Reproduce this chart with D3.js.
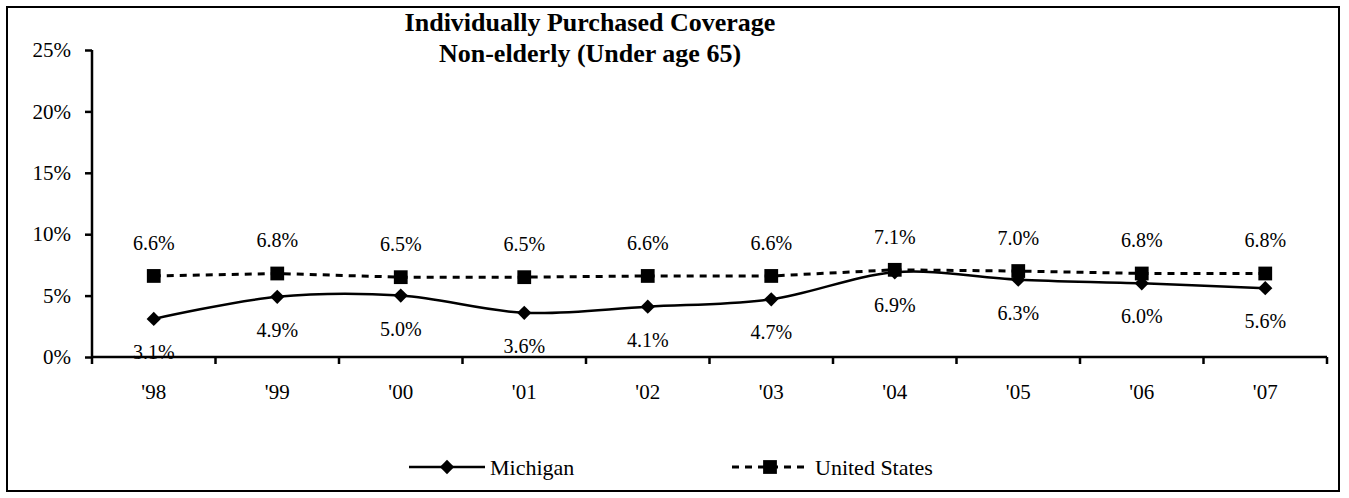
<!DOCTYPE html>
<html>
<head>
<meta charset="utf-8">
<script src="https://cdn.jsdelivr.net/npm/d3@7"></script>
<style>
  body { margin: 0; background: #fff; }
  text { font-family: "Liberation Serif", "Times New Roman", serif; fill: #000; }
</style>
</head>
<body>
<svg id="chart" width="1349" height="498"></svg>
<script>
// data
var years = ["'98", "'99", "'00", "'01", "'02", "'03", "'04", "'05", "'06", "'07"];
var michigan = [3.1, 4.9, 5.0, 3.6, 4.1, 4.7, 6.9, 6.3, 6.0, 5.6];
var unitedStates = [6.6, 6.8, 6.5, 6.5, 6.6, 6.6, 7.1, 7.0, 6.8, 6.8];
var yTicks = [0, 5, 10, 15, 20, 25];
var titleLines = ["Individually Purchased Coverage", "Non-elderly (Under age 65)"];

var svg = d3.select("#chart");

// outer frame
svg.append("rect")
    .attr("x", 7).attr("y", 7)
    .attr("width", 1332).attr("height", 484)
    .attr("fill", "none")
    .attr("stroke", "#000")
    .attr("stroke-width", 2);

var margin = {top: 50, left: 92};
var width = 1235, height = 307;

var g = svg.append("g").attr("transform", "translate(" + margin.left + "," + margin.top + ")");

var x = d3.scaleBand().domain(years).range([0, width]);
var y = d3.scaleLinear().domain([0, 25]).range([height, 0]);
var cx = function(i) { return x(years[i]) + x.bandwidth() / 2; };

// y axis
var yAxis = g.append("g")
    .call(d3.axisLeft(y).tickValues(yTicks).tickSize(7).tickFormat(function(d) { return d + "%"; }));
yAxis.select(".domain").attr("stroke-width", 2.5).attr("d", "M0," + height + "V0");
yAxis.selectAll(".tick line").attr("stroke-width", 2.5);
yAxis.selectAll(".tick text").attr("x", -21).style("font-size", "21px");

// x axis: ticks between categories
var xAxis = g.append("g")
    .attr("transform", "translate(0," + height + ")");
xAxis.append("line")
    .attr("x1", 0).attr("x2", width)
    .attr("stroke", "#000").attr("stroke-width", 2.5);
xAxis.selectAll(".sep")
    .data(d3.range(years.length + 1))
    .enter().append("line")
    .attr("x1", function(i) { return i * x.step(); })
    .attr("x2", function(i) { return i * x.step(); })
    .attr("y1", 0).attr("y2", 7)
    .attr("stroke", "#000").attr("stroke-width", 2.5);
xAxis.selectAll(".lab")
    .data(years)
    .enter().append("text")
    .attr("x", function(d) { return x(d) + x.bandwidth() / 2; })
    .attr("y", 35)
    .attr("dy", "0.35em")
    .attr("text-anchor", "middle")
    .style("font-size", "21px")
    .text(function(d) { return d; });

// lines
var smooth = d3.line()
    .curve(d3.curveCatmullRom.alpha(0))
    .x(function(d, i) { return cx(i); })
    .y(function(d) { return y(d); });
var straight = d3.line()
    .x(function(d, i) { return cx(i); })
    .y(function(d) { return y(d); });

g.append("path")
    .attr("d", straight(unitedStates))
    .attr("fill", "none")
    .attr("stroke", "#000")
    .attr("stroke-width", 3)
    .attr("stroke-dasharray", "7,6");

g.append("path")
    .attr("d", smooth(michigan))
    .attr("fill", "none")
    .attr("stroke", "#000")
    .attr("stroke-width", 2.5);

// markers
var diamond = d3.symbol().type(d3.symbolDiamond2).size(130);
var square = d3.symbol().type(d3.symbolSquare).size(190);

g.selectAll(".usm")
    .data(unitedStates)
    .enter().append("path")
    .attr("d", square)
    .attr("transform", function(d, i) { return "translate(" + cx(i) + "," + y(d) + ")"; })
    .attr("fill", "#000");

g.selectAll(".mim")
    .data(michigan)
    .enter().append("path")
    .attr("d", diamond)
    .attr("transform", function(d, i) { return "translate(" + cx(i) + "," + y(d) + ")"; })
    .attr("fill", "#000");

// value labels
g.selectAll(".usl")
    .data(unitedStates)
    .enter().append("text")
    .attr("x", function(d, i) { return cx(i); })
    .attr("y", function(d) { return y(d) - 33; })
    .attr("dy", "0.35em")
    .attr("text-anchor", "middle")
    .style("font-size", "20px")
    .text(function(d) { return d.toFixed(1) + "%"; });

g.selectAll(".mil")
    .data(michigan)
    .enter().append("text")
    .attr("x", function(d, i) { return cx(i); })
    .attr("y", function(d) { return y(d) + 33; })
    .attr("dy", "0.35em")
    .attr("text-anchor", "middle")
    .style("font-size", "20px")
    .text(function(d) { return d.toFixed(1) + "%"; });

// title
svg.selectAll(".title")
    .data(titleLines)
    .enter().append("text")
    .attr("x", 590)
    .attr("y", function(d, i) { return 22 + i * 31; })
    .attr("dy", "0.35em")
    .attr("text-anchor", "middle")
    .style("font-size", "26px")
    .style("font-weight", "bold")
    .text(function(d) { return d; });

// legend
var leg = svg.append("g").attr("transform", "translate(0,467)");
leg.append("line").attr("x1", 409).attr("x2", 485)
    .attr("stroke", "#000").attr("stroke-width", 2.5);
leg.append("path").attr("d", diamond).attr("transform", "translate(447,0)");
leg.append("text").attr("x", 490).attr("dy", "0.35em").style("font-size", "22px").text("Michigan");

leg.append("line").attr("x1", 732).attr("x2", 808)
    .attr("stroke", "#000").attr("stroke-width", 3).attr("stroke-dasharray", "7,6");
leg.append("path").attr("d", square).attr("transform", "translate(770,0)");
leg.append("text").attr("x", 815).attr("dy", "0.35em").style("font-size", "22px").text("United States");
</script>
</body>
</html>
